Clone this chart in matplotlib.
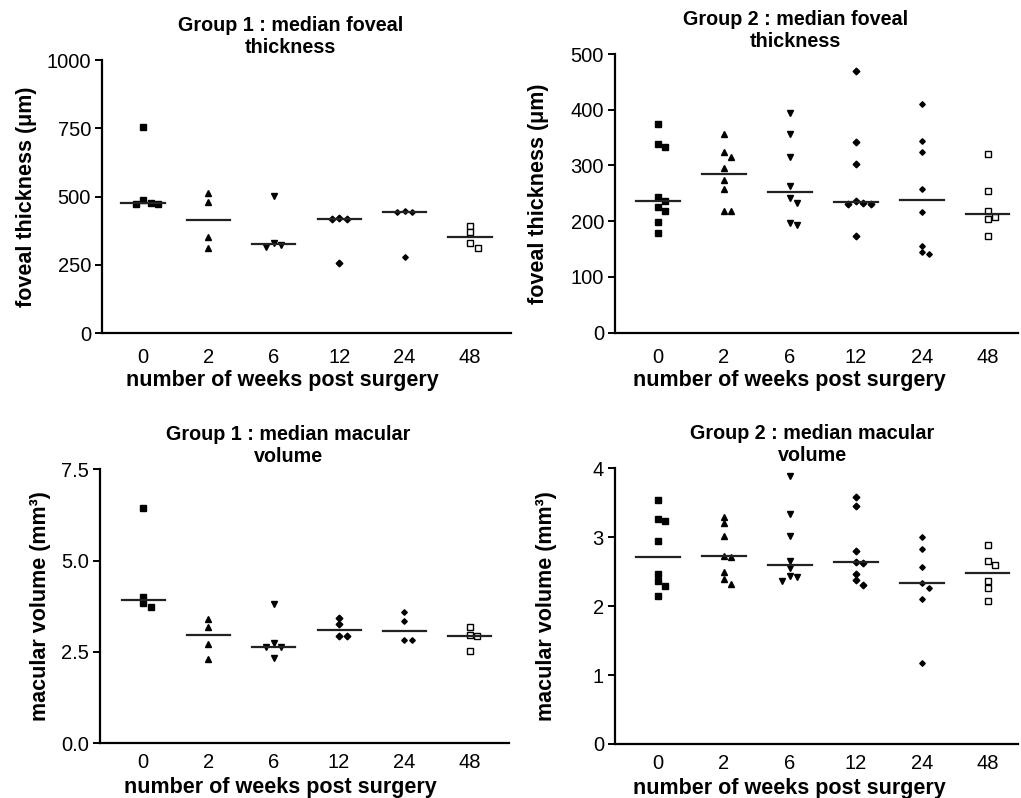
import numpy as np
import matplotlib.pyplot as plt

plt.rcParams['font.family'] = ['Liberation Sans', 'DejaVu Sans']

weeks = ['0', '2', '6', '12', '24', '48']

# group 1, foveal thickness (um), one list per time point
g1_thick = [
    [755, 486, 477, 474, 472],
    [514, 481, 350, 311],
    [503, 329, 323, 316],
    [421, 419, 416, 255],
    [447, 444, 443, 278],
    [392, 369, 331, 310],
]
# group 2, foveal thickness (um)
g2_thick = [
    [374, 338, 333, 244, 237, 225, 218, 199, 179],
    [356, 325, 315, 295, 274, 257, 218, 218],
    [395, 356, 316, 263, 241, 232, 197, 193],
    [470, 343, 302, 237, 232, 231, 231, 173],
    [410, 344, 325, 258, 217, 156, 145, 142],
    [320, 254, 218, 208, 204, 174],
]
# group 1, macular volume (mm3)
g1_vol = [
    [6.43, 4.01, 3.83, 3.74],
    [3.39, 3.19, 2.71, 2.31],
    [3.80, 2.75, 2.64, 2.62, 2.32],
    [3.42, 3.25, 2.92, 2.92],
    [3.60, 3.33, 2.82, 2.81],
    [3.19, 2.96, 2.93, 2.53],
]
# group 2, macular volume (mm3)
g2_vol = [
    [3.54, 3.26, 3.24, 2.95, 2.47, 2.36, 2.29, 2.15],
    [3.30, 3.20, 3.02, 2.73, 2.71, 2.49, 2.40, 2.32],
    [3.89, 3.34, 3.02, 2.65, 2.55, 2.43, 2.42, 2.36],
    [3.59, 3.45, 2.80, 2.64, 2.63, 2.47, 2.38, 2.31],
    [3.00, 2.83, 2.57, 2.34, 2.27, 2.11, 1.17],
    [2.89, 2.66, 2.60, 2.37, 2.27, 2.08],
]

# marker per time point (Prism style)
markers = [
    dict(marker='s', ms=4.3, mfc='black'),
    dict(marker='^', ms=4.6, mfc='black'),
    dict(marker='v', ms=4.6, mfc='black'),
    dict(marker='D', ms=3.4, mfc='black'),
    dict(marker='D', ms=2.8, mfc='black'),
    dict(marker='s', ms=4.2, mfc='white', mew=1.0),
]


def spread(ax, i, vals, step=7.5, gap=6):
    # simple column scatter: shift points sideways when they overlap
    placed = []
    xs = []
    for v in vals:
        px, py = ax.transData.transform((i, v))
        for k in [0, 1, -1, 2, -2, 3, -3]:
            cx = px + k * step
            if all(np.hypot(cx - qx, py - qy) >= gap for qx, qy in placed):
                break
        placed.append((cx, py))
        xs.append(ax.transData.inverted().transform((cx, py))[0])
    return xs


fig = plt.figure(figsize=(10.21, 7.98), dpi=100)

panels = [
    # data, rect, xlim, ylim, yticks, yticklabels, title, ylabel,
    # title x, xlabel pos, ylabel x, x tick pad
    (g1_thick, [0.0999, 0.5827, 0.4006, 0.3421], (-0.627, 5.627), (0, 1000),
     [0, 250, 500, 750, 1000], None,
     'Group 1 : median foveal\nthickness', 'foveal thickness (μm)',
     0.46, (0.44, -0.135), -0.159, 11),
    (g2_thick, [0.6024, 0.5831, 0.3947, 0.3492], (-0.65, 5.46), (0, 500),
     [0, 100, 200, 300, 400, 500], None,
     'Group 2 : median foveal\nthickness', 'foveal thickness (μm)',
     0.447, (0.432, -0.133), -0.164, 11),
    (g1_vol, [0.0979, 0.0689, 0.4006, 0.3430], (-0.66, 5.6), (0, 7.5),
     [0, 2.5, 5.0, 7.5], ['0.0', '2.5', '5.0', '7.5'],
     'Group 1 : median macular\nvolume', 'macular volume (mm³)',
     0.46, (0.44, -0.125), -0.12, 7),
    (g2_vol, [0.6024, 0.0677, 0.3947, 0.3455], (-0.65, 5.46), (0, 4),
     [0, 1, 2, 3, 4], None,
     'Group 2 : median macular\nvolume', 'macular volume (mm³)',
     0.49, (0.432, -0.123), -0.144, 7),
]

for (data, rect, xlim, ylim, yticks, ylabels, title, ylabel,
     tx, lpos, ylx, xpad) in panels:
    ax = fig.add_axes(rect)
    ax.set_xlim(*xlim)
    ax.set_ylim(*ylim)

    for i, vals in enumerate(data):
        xs = spread(ax, i, vals)
        ax.plot(xs, vals, linestyle='none', color='black', mec='black',
                clip_on=False, **markers[i])
        med = np.median(vals)
        ax.plot([i - 0.33, i + 0.33], [med, med], color='#222222', lw=1.6)

    ax.set_xticks(range(len(weeks)))
    ax.set_xticklabels(weeks)
    ax.set_yticks(yticks)
    if ylabels is not None:
        ax.set_yticklabels(ylabels)

    for side in ['top', 'right']:
        ax.spines[side].set_visible(False)
    for side in ['left', 'bottom']:
        ax.spines[side].set_linewidth(1.6)

    ax.tick_params(axis='y', length=5, width=1.4, labelsize=14.5, pad=3)
    ax.tick_params(axis='x', length=0, labelsize=14.5, pad=xpad)

    ax.set_title(title, fontsize=14.2, fontweight='bold', x=tx, pad=5,
                 linespacing=1.22)
    ax.set_xlabel('number of weeks post surgery', fontsize=15.5,
                  fontweight='bold')
    ax.xaxis.set_label_coords(*lpos)
    ax.set_ylabel(ylabel, fontsize=15.5, fontweight='bold')
    ax.yaxis.set_label_coords(ylx, 0.5)

fig.savefig('out.png', dpi=100)
